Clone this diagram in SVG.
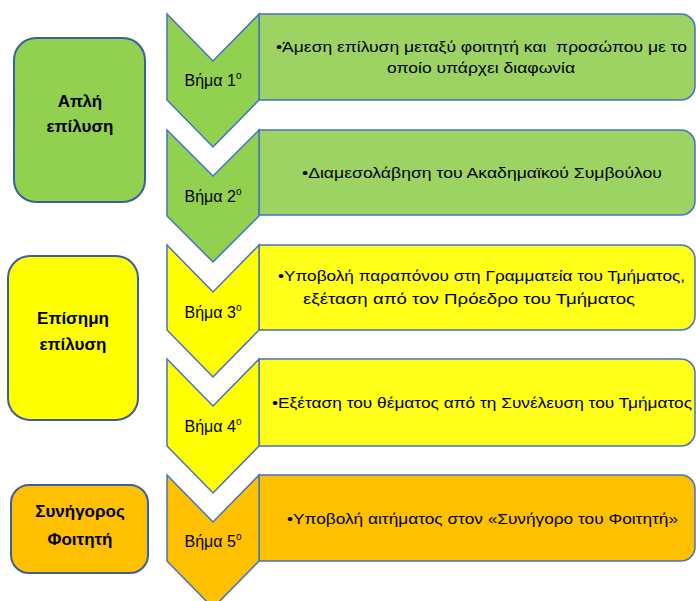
<svg xmlns="http://www.w3.org/2000/svg" width="696" height="601" viewBox="0 0 696 601">
<defs>
<style>
.chev{stroke:#4472C4;stroke-width:1.5;stroke-linejoin:miter}
.tbox{stroke:#4472C4;stroke-width:1.5}
.lbox{stroke:#3A5F9F;stroke-width:2}
.g1{fill:#92D050}.g2{fill:#9DD363}
.y1{fill:#FFFF00}.y2{fill:#FFFF1A}
.o1{fill:#FFC000}.o2{fill:#FFC000}
.step{font-family:"Liberation Sans",Arial,sans-serif;font-size:16px;fill:#000;text-anchor:middle}
.sup{font-size:10px}
.body{font-family:"Liberation Sans",Arial,sans-serif;font-size:15.5px;fill:#000}
.head{font-family:"Liberation Sans",Arial,sans-serif;font-size:17px;font-weight:bold;fill:#000;text-anchor:middle}
</style>
</defs>
<rect width="696" height="601" fill="#FFFFFF"/>

<g id="phase-simple">
<rect class="lbox g1" x="14" y="38" width="131" height="164" rx="22"/>
<text class="head" x="80" y="107">Απλή</text>
<text class="head" x="80" y="132">επίλυση</text>
</g>
<g id="phase-formal">
<rect class="lbox y1" x="8" y="256" width="130" height="164" rx="22"/>
<text class="head" x="73" y="324">Επίσημη</text>
<text class="head" x="73" y="350">επίλυση</text>
</g>
<g id="phase-ombudsman">
<rect class="lbox o1" x="11" y="485" width="137" height="88" rx="18"/>
<text class="head" x="80" y="517">Συνήγορος</text>
<text class="head" x="80" y="545">Φοιτητή</text>
</g>

<g id="step1">
<path class="tbox g2" d="M259,14 H681 A14,14 0 0 1 695,28 V86 A14,14 0 0 1 681,100 H259 Z"/>
<path class="chev g1" d="M167,14 L213,61 L259,14 L259,100 L213,147 L167,100 Z"/>
<text class="step" x="213" y="86">Βήμα 1<tspan class="sup" dy="-7">ο</tspan></text>
<text class="body" x="276" y="52" xml:space="preserve" textLength="411" lengthAdjust="spacingAndGlyphs">•Άμεση επίλυση μεταξύ φοιτητή και  προσώπου με το</text>
<text class="body" x="387" y="73" textLength="188" lengthAdjust="spacingAndGlyphs">οποίο υπάρχει διαφωνία</text>
</g>

<g id="step2">
<path class="tbox g2" d="M259,130 H681 A14,14 0 0 1 695,144 V201 A14,14 0 0 1 681,215 H259 Z"/>
<path class="chev g1" d="M167,130 L213,176 L259,130 L259,216 L213,262 L167,216 Z"/>
<text class="step" x="213" y="202">Βήμα 2<tspan class="sup" dy="-7">ο</tspan></text>
<text class="body" x="302" y="178" textLength="360" lengthAdjust="spacingAndGlyphs">•Διαμεσολάβηση του Ακαδημαϊκού Συμβούλου</text>
</g>

<g id="step3">
<path class="tbox y2" d="M259,245 H681 A14,14 0 0 1 695,259 V316 A14,14 0 0 1 681,330 H259 Z"/>
<path class="chev y1" d="M167,245 L213,292 L259,245 L259,330 L213,377 L167,330 Z"/>
<text class="step" x="213" y="318">Βήμα 3<tspan class="sup" dy="-7">ο</tspan></text>
<text class="body" x="278" y="281" textLength="407" lengthAdjust="spacingAndGlyphs">•Υποβολή παραπόνου στη Γραμματεία του Τμήματος,</text>
<text class="body" x="303" y="304" textLength="332" lengthAdjust="spacingAndGlyphs">εξέταση από τον Πρόεδρο του Τμήματος</text>
</g>

<g id="step4">
<path class="tbox y2" d="M259,359 H681 A14,14 0 0 1 695,373 V432 A14,14 0 0 1 681,446 H259 Z"/>
<path class="chev y1" d="M167,359 L213,406 L259,359 L259,446 L213,493 L167,446 Z"/>
<text class="step" x="213" y="432">Βήμα 4<tspan class="sup" dy="-7">ο</tspan></text>
<text class="body" x="272" y="408" textLength="420" lengthAdjust="spacingAndGlyphs">•Εξέταση του θέματος από τη Συνέλευση του Τμήματος</text>
</g>

<g id="step5">
<path class="tbox o2" d="M259,475 H681 A14,14 0 0 1 695,489 V547 A14,14 0 0 1 681,561 H259 Z"/>
<path class="chev o1" d="M167,475 L213,522 L259,475 L259,561 L213,608 L167,561 Z"/>
<text class="step" x="213" y="547">Βήμα 5<tspan class="sup" dy="-7">ο</tspan></text>
<text class="body" x="287" y="524" textLength="391" lengthAdjust="spacingAndGlyphs">•Υποβολή αιτήματος στον «Συνήγορο του Φοιτητή»</text>
</g>

<g id="connectors"/>
</svg>
